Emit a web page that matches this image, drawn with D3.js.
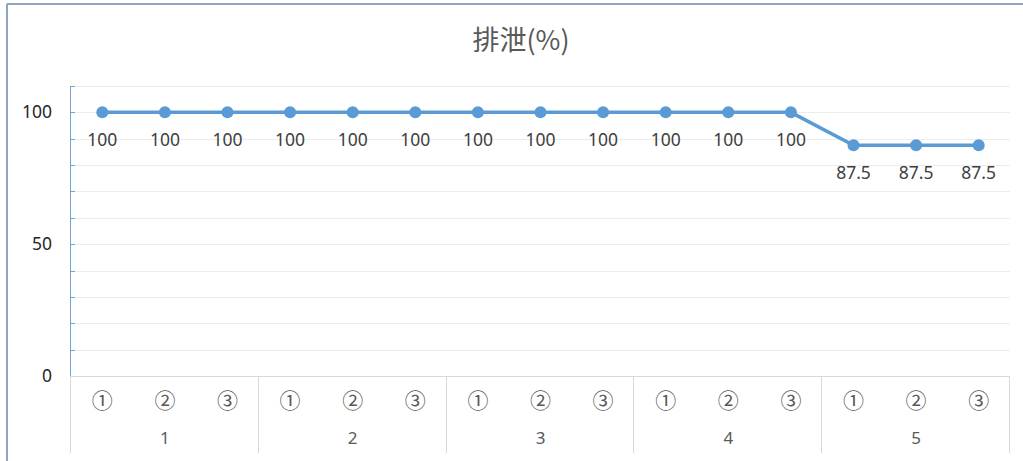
<!DOCTYPE html>
<html>
<head>
<meta charset="utf-8">
<script src="https://cdn.jsdelivr.net/npm/d3@7"></script>
<style>
  body { margin: 0; background: #fff; }
  svg { display: block; font-family: "Noto Sans", "Noto Sans CJK JP", sans-serif; }
</style>
</head>
<body>
<svg id="chart" width="1023" height="461"></svg>
<script>
// data
const groups = ['1', '2', '3', '4', '5'];
const subLabels = ['①', '②', '③'];
const values = [100, 100, 100, 100, 100, 100, 100, 100, 100, 100, 100, 100, 87.5, 87.5, 87.5];
const yTickLabels = [0, 50, 100];
const title = '排泄(%)';

const svg = d3.select('#chart');
const margin = { top: 86, left: 71, right: 13, bottom: 85 };
const W = 1023, H = 461;

// outer frame (only top / left visible in the crop)
svg.append('line').attr('x1', 7).attr('y1', 4).attr('x2', W).attr('y2', 4)
  .style('stroke', '#8ea5c1').style('stroke-width', 2);
svg.append('line').attr('x1', 7).attr('y1', 4).attr('x2', 7).attr('y2', H)
  .style('stroke', '#8ea5c1').style('stroke-width', 2);

const cats = [];
groups.forEach(g => subLabels.forEach(s => cats.push(g + '-' + s)));

const x = d3.scaleBand()
  .domain(cats)
  .range([margin.left, W - margin.right]);

const y = d3.scaleLinear()
  .domain([0, 110])
  .range([H - margin.bottom, margin.top]);

// gridlines every 10
let grid = svg.append('g').attr('class', 'grid');
grid.selectAll('line')
  .data(d3.range(10, 111, 10))
  .enter().append('line')
  .attr('x1', margin.left).attr('x2', W - margin.right)
  .attr('y1', d => Math.round(y(d)) + 0.5).attr('y2', d => Math.round(y(d)) + 0.5)
  .style('stroke', '#ececec').style('stroke-width', 1);

// y axis line + minor ticks
let yAxis = svg.append('g').attr('class', 'y-axis');
yAxis.append('line')
  .attr('x1', margin.left - 0.5).attr('x2', margin.left - 0.5)
  .attr('y1', y(110)).attr('y2', y(0))
  .style('stroke', '#6fa6da').style('stroke-width', 1);
yAxis.selectAll('.tick')
  .data(d3.range(10, 111, 10))
  .enter().append('line')
  .attr('class', 'tick')
  .attr('x1', margin.left).attr('x2', margin.left + 4)
  .attr('y1', d => Math.round(y(d)) + 0.5).attr('y2', d => Math.round(y(d)) + 0.5)
  .style('stroke', '#6fa6da');
yAxis.selectAll('text')
  .data(yTickLabels)
  .enter().append('text')
  .attr('x', 52).attr('y', d => y(d))
  .attr('dy', '0.35em')
  .attr('text-anchor', 'end')
  .style('font-size', '17.5px')
  .attr('fill', '#262626')
  .text(d => d);

// category axis
let xAxis = svg.append('g').attr('class', 'x-axis');
xAxis.append('line')
  .attr('x1', margin.left).attr('x2', W - margin.right)
  .attr('y1', y(0) + 0.5).attr('y2', y(0) + 0.5)
  .style('stroke', '#d9d9d9');
const step = x.step();
const bounds = d3.range(groups.length + 1).map(i => margin.left + i * step * subLabels.length);
xAxis.selectAll('.sep')
  .data(bounds)
  .enter().append('line')
  .attr('class', 'sep')
  .attr('x1', d => Math.round(d) - 0.5).attr('x2', d => Math.round(d) - 0.5)
  .attr('y1', y(0)).attr('y2', 453)
  .style('stroke', '#d9d9d9');
xAxis.selectAll('.sub')
  .data(cats)
  .enter().append('text')
  .attr('class', 'sub')
  .attr('x', d => x(d) + x.bandwidth() / 2)
  .attr('y', 401)
  .attr('dy', '0.35em')
  .attr('text-anchor', 'middle')
  .style('font-family', '"Noto Sans CJK JP", sans-serif')
  .style('font-size', '21px')
  .attr('fill', '#595959')
  .text(d => d.split('-')[1]);
xAxis.selectAll('.grp')
  .data(groups)
  .enter().append('text')
  .attr('class', 'grp')
  .attr('x', (d, i) => (bounds[i] + bounds[i + 1]) / 2)
  .attr('y', 438)
  .attr('dy', '0.35em')
  .attr('text-anchor', 'middle')
  .style('font-size', '17px')
  .attr('fill', '#595959')
  .text(d => d);

// series
const pts = cats.map((c, i) => ({ c: c, v: values[i] }));
const line = d3.line()
  .x(d => x(d.c) + x.bandwidth() / 2)
  .y(d => y(d.v));
svg.append('path')
  .datum(pts)
  .attr('d', line)
  .style('fill', 'none')
  .style('stroke', '#5b9bd5')
  .style('stroke-width', 3.5)
  .style('stroke-linejoin', 'round');
svg.selectAll('.dot')
  .data(pts)
  .enter().append('circle')
  .attr('class', 'dot')
  .attr('cx', d => x(d.c) + x.bandwidth() / 2)
  .attr('cy', d => y(d.v))
  .attr('r', 6)
  .attr('fill', '#5b9bd5');
svg.selectAll('.val')
  .data(pts)
  .enter().append('text')
  .attr('class', 'val')
  .attr('x', d => x(d.c) + x.bandwidth() / 2)
  .attr('y', d => y(d.v) + 28)
  .attr('dy', '0.35em')
  .attr('text-anchor', 'middle')
  .style('font-size', '17.5px')
  .attr('fill', '#404040')
  .text(d => d.v);

// title
svg.append('text')
  .attr('x', 521).attr('y', 41)
  .attr('dy', '0.35em')
  .attr('text-anchor', 'middle')
  .style('font-family', '"Noto Sans CJK JP", sans-serif')
  .style('font-size', '27px')
  .attr('fill', '#595959')
  .text(title);
</script>
</body>
</html>
